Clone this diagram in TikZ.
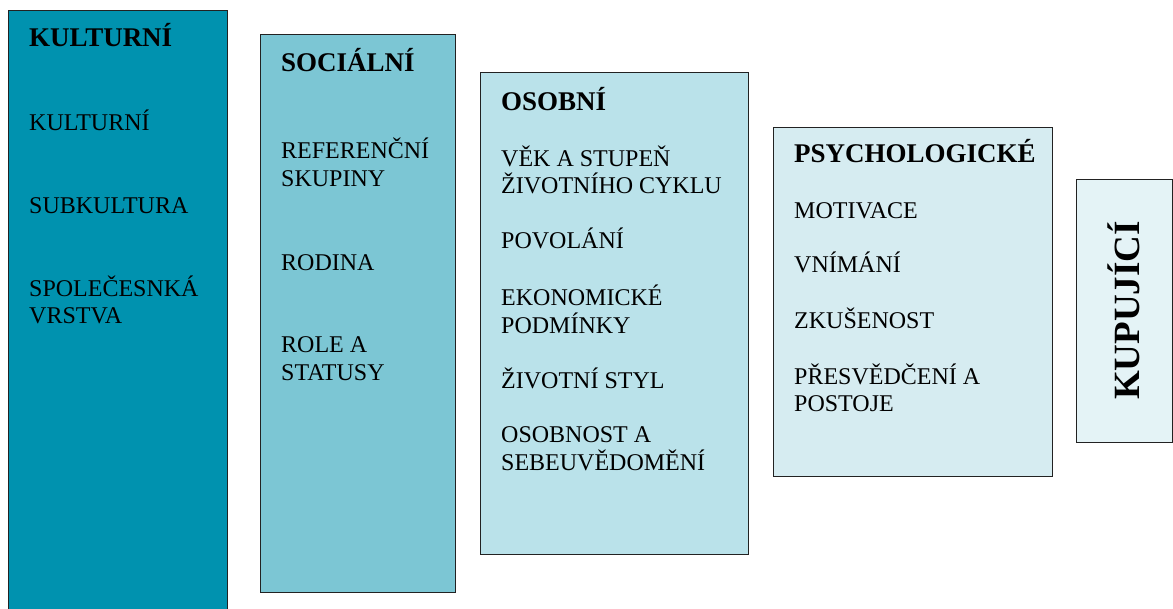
\documentclass[tikz,border=0pt]{standalone}
\usepackage{fontspec}
\setmainfont{Liberation Serif}
\definecolor{cKult}{HTML}{0092AF}
\definecolor{cSoc}{HTML}{7CC6D4}
\definecolor{cOsob}{HTML}{BAE2EA}
\definecolor{cPsy}{HTML}{D6ECF1}
\definecolor{cKup}{HTML}{E4F3F6}
\definecolor{edge}{HTML}{222222}
\begin{document}
\begin{tikzpicture}[x=1pt,y=-1pt,
  panel/.style={draw=edge,line width=1pt},
  head/.style={anchor=base west,inner sep=0pt,font=\fontsize{27}{30}\selectfont\bfseries},
  % multi-line items: the base anchor sits on the last line's baseline
  item/.style={anchor=base west,inner sep=0pt,align=left,font=\fontsize{24}{27.5}\selectfont}]
\clip (0,0) rectangle (1173,608);
\fill[white] (0,0) rectangle (1173,608);
% factor panels
\filldraw[panel,fill=cKult] (8.5,10) rectangle (227,640);
\filldraw[panel,fill=cSoc] (260,34.5) rectangle (455,592.5);
\filldraw[panel,fill=cOsob] (480,72.5) rectangle (748,554);
\filldraw[panel,fill=cPsy] (773.5,127.5) rectangle (1052,476.5);
\filldraw[panel,fill=cKup] (1076,179.5) rectangle (1172,442.5);
% cultural factors
\node[head] (k0) at (29,46) {KULTURNÍ};
\node[item] (k1) at (29,130) {KULTURNÍ};
\node[item] (k2) at (29,213) {SUBKULTURA};
\node[item] (k3) at (29,323.5) {SPOLEČESNKÁ\\VRSTVA};
% social factors
\node[head] (s0) at (281,71.5) {SOCIÁLNÍ};
\node[item] (s1) at (281,186) {REFERENČNÍ\\SKUPINY};
\node[item] (s2) at (281,270) {RODINA};
\node[item] (s3) at (281,380) {ROLE A\\STATUSY};
% personal factors
\node[head] (o0) at (501,110.5) {OSOBNÍ};
\node[item] (o1) at (501,193.5) {VĚK A STUPEŇ\\ŽIVOTNÍHO CYKLU};
\node[item] (o2) at (501,248) {POVOLÁNÍ};
\node[item] (o3) at (501,333) {EKONOMICKÉ\\PODMÍNKY};
\node[item] (o4) at (501,388.5) {ŽIVOTNÍ STYL};
\node[item] (o5) at (501,470) {OSOBNOST A\\SEBEUVĚDOMĚNÍ};
% psychological factors
\node[head] (p0) at (794,162.5) {PSYCHOLOGICKÉ};
\node[item] (p1) at (794,218.5) {MOTIVACE};
\node[item] (p2) at (794,272.5) {VNÍMÁNÍ};
\node[item] (p3) at (794,328) {ZKUŠENOST};
\node[item] (p4) at (794,411.5) {PŘESVĚDČENÍ A\\POSTOJE};
% buyer
\node[rotate=90,inner sep=0pt,font=\fontsize{37}{40}\selectfont\bfseries] (buyer) at (1124,310.5) {KUPUJÍCÍ};
\end{tikzpicture}
\end{document}
